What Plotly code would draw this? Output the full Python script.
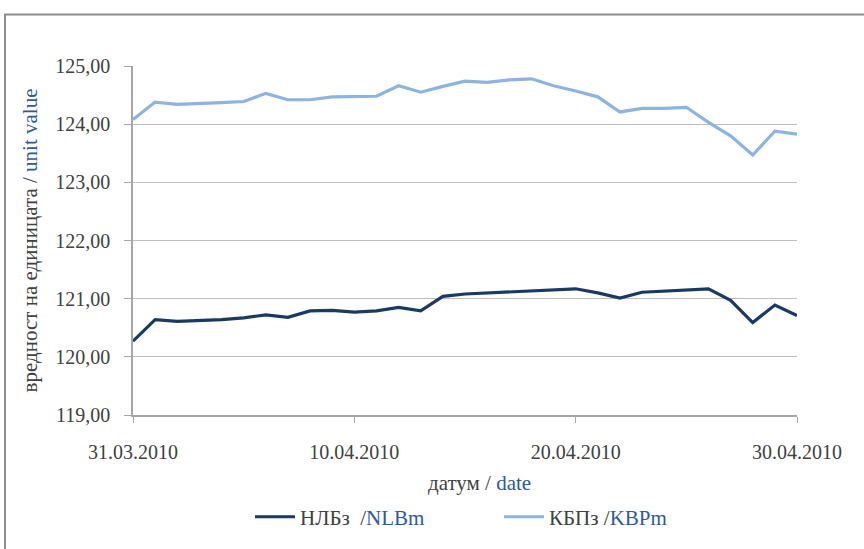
import plotly.graph_objects as go

dates = [
    "2010-03-31", "2010-04-01", "2010-04-02", "2010-04-03", "2010-04-04",
    "2010-04-05", "2010-04-06", "2010-04-07", "2010-04-08", "2010-04-09",
    "2010-04-10", "2010-04-11", "2010-04-12", "2010-04-13", "2010-04-14",
    "2010-04-15", "2010-04-16", "2010-04-17", "2010-04-18", "2010-04-19",
    "2010-04-20", "2010-04-21", "2010-04-22", "2010-04-23", "2010-04-24",
    "2010-04-25", "2010-04-26", "2010-04-27", "2010-04-28", "2010-04-29",
    "2010-04-30",
]

nlbm = [
    120.27, 120.64, 120.61, 120.62, 120.64, 120.67, 120.72, 120.68, 120.79, 120.80,
    120.77, 120.79, 120.85, 120.79, 121.04, 121.08, 121.10, 121.12, 121.14, 121.15,
    121.17, 121.10, 121.01, 121.11, 121.13, 121.15, 121.17, 120.97, 120.59, 120.89,
    120.71,
]

kbpm = [
    124.08, 124.38, 124.34, 124.35, 124.37, 124.39, 124.53, 124.42, 124.42, 124.47,
    124.47, 124.48, 124.66, 124.55, 124.65, 124.74, 124.72, 124.76, 124.78, 124.66,
    124.57, 124.47, 124.21, 124.27, 124.27, 124.29, 124.03, 123.80, 123.47, 123.88,
    123.83,
]

tick_dates = ["2010-03-31", "2010-04-10", "2010-04-20", "2010-04-30"]
tick_text = ["31.03.2010", "10.04.2010", "20.04.2010", "30.04.2010"]
y_ticks = [119, 120, 121, 122, 123, 124, 125]
y_text = ["119,00", "120,00", "121,00", "122,00", "123,00", "124,00", "125,00"]

BLUE_TXT = "#2f5a9b"
TXT = "#404040"
FONT = "Liberation Serif"

fig = go.Figure()
fig.add_trace(go.Scatter(
    x=dates, y=nlbm, mode="lines",
    name=f"НЛБз  /<span style='color:{BLUE_TXT}'>NLBm</span>",
    line=dict(color="#1b3a63", width=3.2),
))
fig.add_trace(go.Scatter(
    x=dates, y=kbpm, mode="lines",
    name=f"КБПз /<span style='color:{BLUE_TXT}'>KBPm</span>",
    line=dict(color="#8db3e2", width=3.2),
))

L, R, T, B = 133, 67, 66, 131
W, H = 864, 549
pw, ph = W - L - R, H - T - B

def px_x(p):
    return (p - L) / pw

def px_y(p):
    return (H - B - p) / ph

fig.update_layout(
    width=W, height=H,
    margin=dict(l=L, r=R, t=T, b=B, pad=0),
    paper_bgcolor="white", plot_bgcolor="white",
    font=dict(family=FONT, size=20, color=TXT),
    showlegend=True,
    legend=dict(
        orientation="h", x=px_x(250), xanchor="left",
        y=px_y(521), yanchor="middle",
        font=dict(family=FONT, size=21, color=TXT),
        itemwidth=40, tracegroupgap=0, entrywidth=194,
    ),
    xaxis=dict(
        type="date",
        range=["2010-03-31", "2010-04-30"],
        tickmode="array", tickvals=tick_dates, ticktext=tick_text,
        showgrid=False, showline=True, linecolor="#a6a6a6", linewidth=1.5,
        ticks="outside", ticklen=6, tickcolor="#a6a6a6", tickwidth=1,
        ticklabelstandoff=12,
        tickfont=dict(family=FONT, size=20, color=TXT),
    ),
    yaxis=dict(
        range=[119, 125],
        tickmode="array", tickvals=y_ticks, ticktext=y_text,
        showgrid=True, gridcolor="#bfbfbf", gridwidth=1.3,
        showline=True, linecolor="#a6a6a6", linewidth=1.5,
        ticks="outside", ticklen=7, tickcolor="#a6a6a6", tickwidth=1,
        ticklabelstandoff=10,
        zeroline=False,
        tickfont=dict(family=FONT, size=20, color=TXT),
        title=dict(
            text=f"вредност на единицата / <span style='color:{BLUE_TXT}'>unit value</span>",
            font=dict(family=FONT, size=21, color=TXT),
            standoff=12,
        ),
    ),
    annotations=[dict(
        xref="paper", yref="paper", x=px_x(479), y=px_y(487),
        xanchor="center", yanchor="middle", showarrow=False,
        text=f"датум / <span style='color:{BLUE_TXT}'>date</span>",
        font=dict(family=FONT, size=21, color=TXT),
    )],
    shapes=[dict(
        type="rect", xref="paper", yref="paper",
        x0=px_x(5), x1=px_x(880), y0=px_y(14), y1=px_y(570),
        line=dict(color="#8c8c8c", width=2), fillcolor="rgba(0,0,0,0)",
        layer="below",
    )],
)

fig.write_html(
    "out.html",
    config={"displayModeBar": False},
    post_script="document.body.style.margin='0px';document.body.style.padding='0px';",
)
